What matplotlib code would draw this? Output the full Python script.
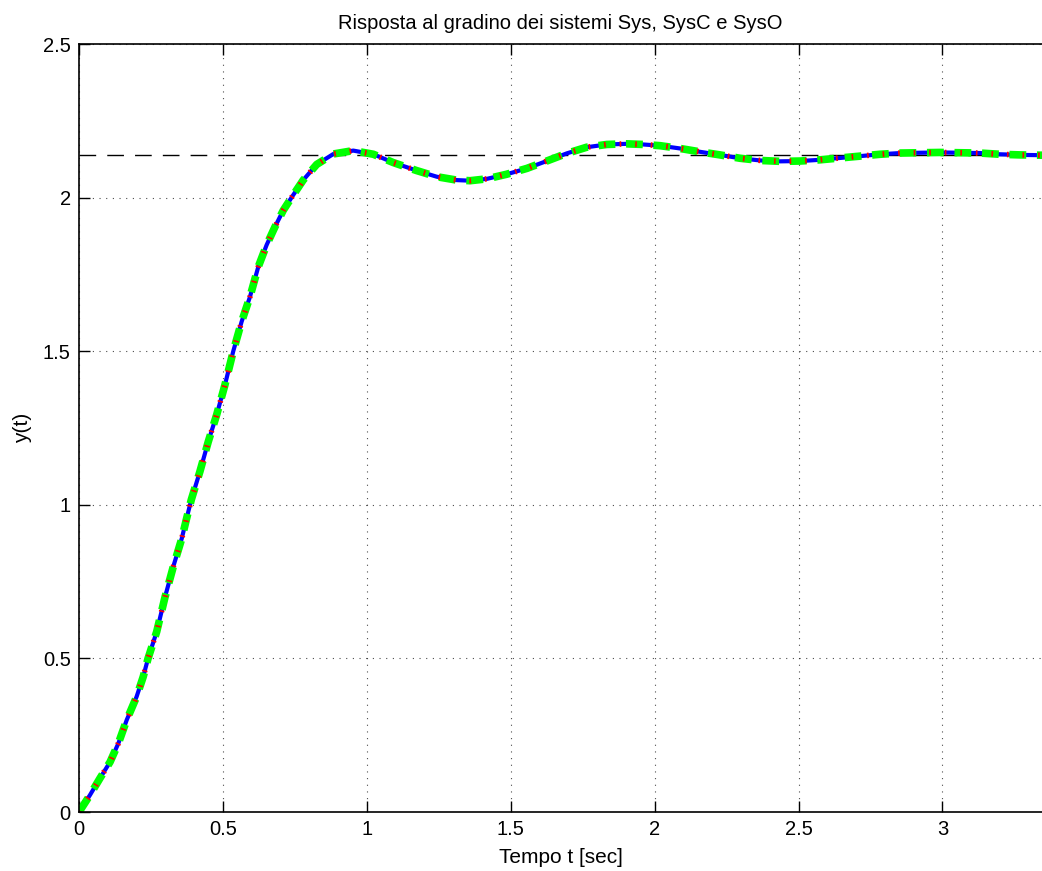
import numpy as np
import matplotlib.pyplot as plt

# step response (Sys, SysC, SysO overlap)
t = [0.0, 0.038, 0.073, 0.108, 0.137, 0.166, 0.200, 0.223, 0.240, 0.270,
     0.299, 0.328, 0.357, 0.374, 0.390, 0.420, 0.449, 0.478, 0.507, 0.536,
     0.565, 0.594, 0.623, 0.652, 0.681, 0.710, 0.739, 0.779, 0.826, 0.884,
     0.953, 1.023, 1.092, 1.173, 1.243, 1.312, 1.359, 1.417, 1.486, 1.556,
     1.625, 1.695, 1.764, 1.834, 1.903, 1.960, 2.019, 2.088, 2.158, 2.227,
     2.297, 2.366, 2.436, 2.505, 2.575, 2.644, 2.714, 2.783, 2.853, 2.922,
     2.992, 3.061, 3.131, 3.200, 3.270, 3.346]
y = [0.0, 0.055, 0.110, 0.163, 0.224, 0.300, 0.375, 0.440, 0.500, 0.587,
     0.700, 0.800, 0.890, 0.956, 1.016, 1.108, 1.205, 1.292, 1.390, 1.500,
     1.596, 1.677, 1.775, 1.846, 1.905, 1.959, 2.001, 2.057, 2.108, 2.142,
     2.153, 2.141, 2.114, 2.088, 2.068, 2.057, 2.055, 2.061, 2.076, 2.095,
     2.119, 2.144, 2.164, 2.173, 2.175, 2.173, 2.169, 2.160, 2.149, 2.139,
     2.128, 2.121, 2.118, 2.119, 2.123, 2.129, 2.135, 2.141, 2.145, 2.146,
     2.147, 2.146, 2.145, 2.141, 2.139, 2.138]
y_final = 2.14
x_ticks = [0, 0.5, 1, 1.5, 2, 2.5, 3]
y_ticks = [0, 0.5, 1, 1.5, 2, 2.5]

plt.rcParams['font.family'] = ['Liberation Sans', 'DejaVu Sans']

fig = plt.figure(figsize=(10.42, 8.71), dpi=100)
ax = fig.add_axes([79/1042, 59/871, 1 - 79/1042, (812-44)/871])

ax.axhline(y_final, color="black", lw=1, dashes=(12, 8))
ax.plot(t, y, color="blue", lw=3, solid_joinstyle="round")
ax.plot(t, y, color="#00ff00", lw=5.5, dashes=(2.2, 1.4), dash_capstyle="butt")
ax.plot(t, y, color="red", lw=4, dashes=(0.3, 2.5), dash_capstyle="butt")

ax.set_xlim(0, 3.346)
ax.set_ylim(0, 2.5)
ax.set_xticks(x_ticks)
ax.set_xticklabels(["0", "0.5", "1", "1.5", "2", "2.5", "3"])
ax.set_yticks(y_ticks)
ax.set_yticklabels(["0", "0.5", "1", "1.5", "2", "2.5"])
ax.tick_params(direction="in", length=8, width=1, labelsize=14.5, top=True, right=False, pad=6)
ax.grid(True, color="black", linestyle=(0, (1, 5)), lw=0.8, alpha=0.7)
ax.spines["right"].set_visible(False)
for s in ["left", "bottom", "top"]:
    ax.spines[s].set_linewidth(1.2)

ax.set_title("Risposta al gradino dei sistemi Sys, SysC e SysO", fontsize=14.5, pad=11)
ax.set_xlabel("Tempo t [sec]", fontsize=15, labelpad=6)
ax.set_ylabel("y(t)", fontsize=15, labelpad=8)

fig.savefig("out.png", dpi=100)
